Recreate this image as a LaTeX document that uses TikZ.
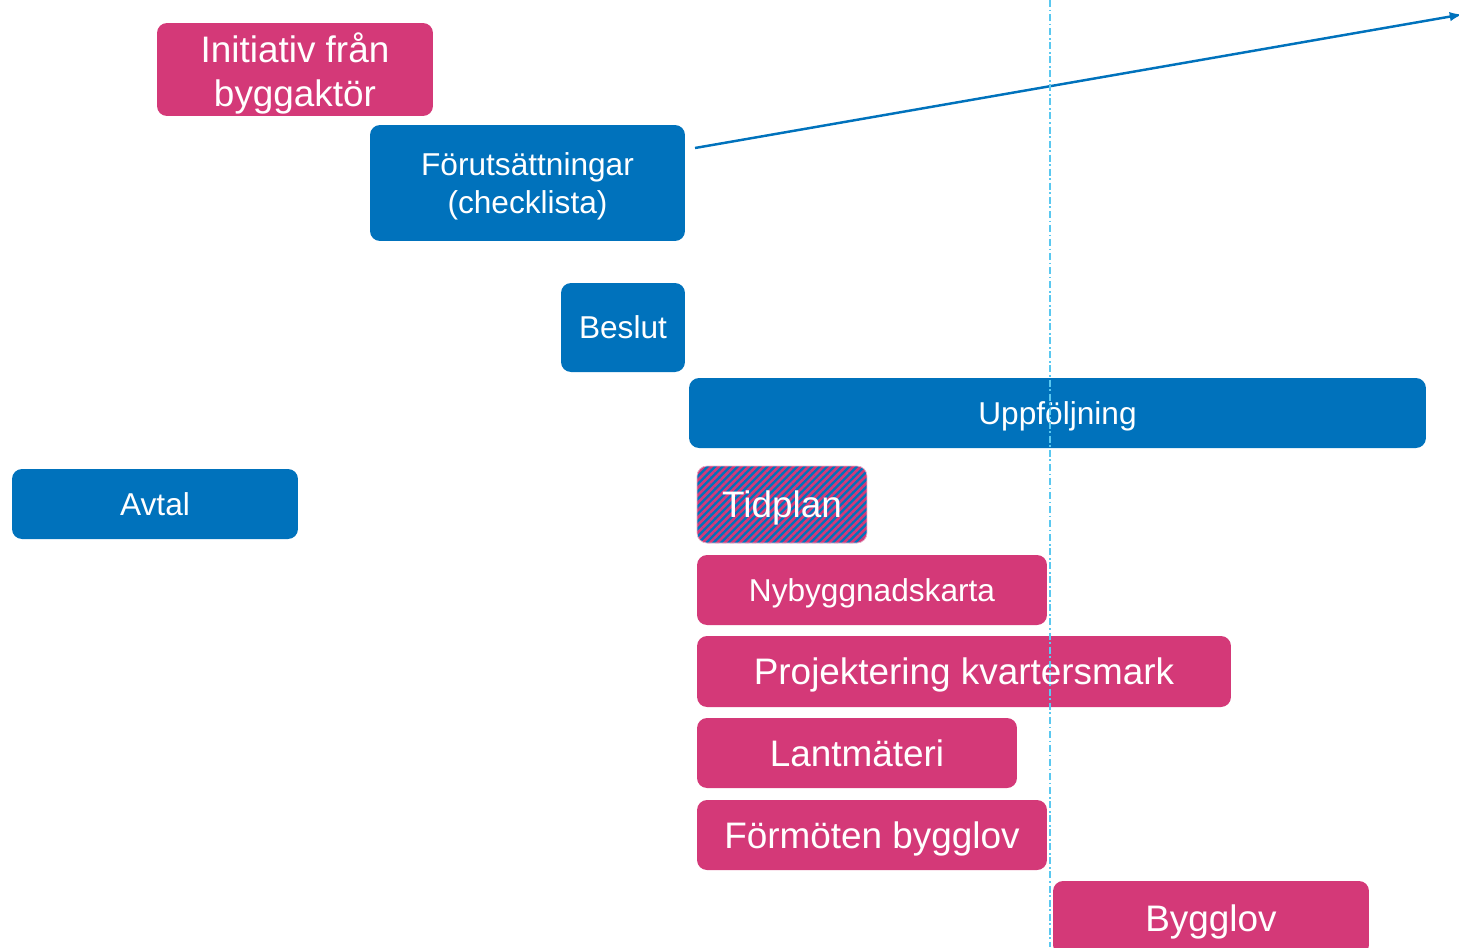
\documentclass[tikz,border=0pt]{standalone}
\usepackage{fontspec}
\setmainfont{Liberation Sans}
\usepackage{tikz}
\usetikzlibrary{arrows.meta,patterns.meta}
\definecolor{bpink}{RGB}{212,57,120}
\definecolor{bblue}{RGB}{0,114,188}
\definecolor{lcyan}{RGB}{90,200,240}

\begin{document}
\begin{tikzpicture}[x=0.02cm,y=0.02cm,>=latex,
  box/.style={rounded corners=0.2cm,inner sep=0pt,text=white,align=center,text depth=0pt},
  pinkbox/.style={box,fill=bpink},
  bluebox/.style={box,fill=bblue},
  small/.style={font=\fontsize{18}{22}\selectfont},
  big/.style={font=\fontsize{21}{25}\selectfont}]
  \useasboundingbox (0,0) rectangle (1459,-947);
  % ---------------- top: initiative, prerequisites, decision
  \node[pinkbox,big,minimum width=5.52cm,minimum height=1.86cm] (initiativ) at (295,-69.5) {Initiativ från\\byggaktör};
  \node[bluebox,small,minimum width=6.3cm,minimum height=2.32cm] (forut) at (527.5,-183) {Förutsättningar\\(checklista)};
  \node[bluebox,small,minimum width=2.48cm,minimum height=1.78cm] (beslut) at (623,-327.5) {Beslut};
  \node[bluebox,small,minimum width=14.74cm,minimum height=1.4cm] (uppf) at (1057.5,-413) {Uppföljning};
  \node[bluebox,small,minimum width=5.72cm,minimum height=1.4cm] (avtal) at (155,-504) {Avtal};
  % ---------------- activities
  \node[box,big,preaction={fill=bblue},pattern={Lines[angle=45,distance=3pt,line width=1.5pt]},pattern color=bpink,
    draw=bpink!40,line width=0.4pt,minimum width=3.4cm,minimum height=1.54cm] (tidplan) at (782,-504.5) {Tidplan};
  \node[pinkbox,small,minimum width=7cm,minimum height=1.4cm] (nybygg) at (872,-590) {Nybyggnadskarta};
  \node[pinkbox,big,minimum width=10.68cm,minimum height=1.42cm] (projekt) at (964,-671.5) {Projektering kvartersmark};
  \node[pinkbox,big,minimum width=6.4cm,minimum height=1.4cm] (lantm) at (857,-753) {Lantmäteri};
  \node[pinkbox,big,minimum width=7cm,minimum height=1.4cm] (formoten) at (872,-835) {Förmöten bygglov};
  \node[pinkbox,big,minimum width=6.32cm,minimum height=1.48cm] (bygglov) at (1211,-918) {Bygglov};
  % ---------------- time line and arrow
  \coordinate (arrstart) at (695,-148);
  \coordinate (arrend) at (1462,-14.5);
  \draw[->,bblue,line width=1.4pt] (arrstart) -- (arrend);
  \draw[lcyan,line width=0.7pt,dash pattern=on 4pt off 1.5pt on 1pt off 1.5pt] (1050,0) -- (1050,-947);
\end{tikzpicture}
\end{document}
